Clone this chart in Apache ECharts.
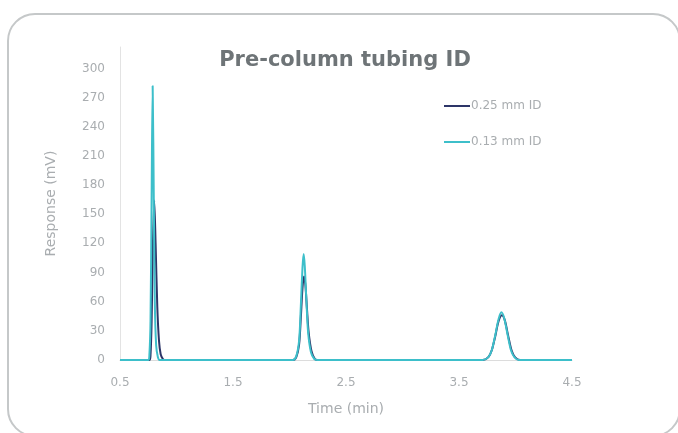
<!DOCTYPE html>
<html>
<head>
<meta charset="utf-8">
<script src="https://cdn.jsdelivr.net/npm/echarts@6/dist/echarts.min.js"></script>
<style>
  html, body { margin: 0; padding: 0; background: #fff; overflow: hidden; }
  #frame {
    position: absolute; left: 7px; top: 13px; width: 670px; height: 420px;
    border: 2px solid #c5c8c9; border-radius: 28px;
  }
  #chart { position: absolute; left: 0; top: 0; width: 678px; height: 433px; }
</style>
</head>
<body>
<div id="frame"></div>
<div id="chart"></div>
<script>
// values
var seriesNames = ['0.25 mm ID', '0.13 mm ID'];
var timeWide = [0.5, 0.76, 0.77, 0.78, 0.79, 0.803, 0.815, 0.83, 0.845, 0.86, 0.88, 0.90,
  2.03, 2.06, 2.085, 2.10, 2.115, 2.128, 2.14, 2.155, 2.17, 2.195, 2.225, 2.26,
  3.71, 3.76, 3.79, 3.82, 3.85, 3.88, 3.905, 3.935, 3.965, 3.995, 4.04, 4.5];
var respWide = [0, 0, 5, 40, 110, 164, 120, 55, 20, 6, 1, 0,
  0, 3, 16, 43, 74, 86, 78, 52, 28, 9, 1, 0,
  0, 3, 10, 24, 40, 46, 41, 25, 10, 3, 0, 0];
var timeNarrow = [0.5, 0.75, 0.76, 0.77, 0.78, 0.789, 0.798, 0.808, 0.82, 0.835, 0.85,
  2.03, 2.06, 2.085, 2.10, 2.115, 2.125, 2.135, 2.15, 2.165, 2.19, 2.22, 2.25,
  3.71, 3.76, 3.79, 3.82, 3.85, 3.875, 3.90, 3.93, 3.96, 3.99, 4.03, 4.5];
var respNarrow = [0, 0, 5, 40, 170, 282, 180, 60, 15, 3, 0,
  0, 4, 20, 55, 95, 109, 97, 60, 28, 8, 1, 0,
  0, 3, 10, 25, 42, 49, 43, 26, 10, 3, 0, 0];
var xTicks = [0.5, 1.5, 2.5, 3.5, 4.5];
var colors = ['#2d3568', '#3dbfca'];

function pairs(xs, ys) {
  return xs.map(function (x, i) { return [x, ys[i]]; });
}

var chart = echarts.init(document.getElementById('chart'));
var labelColor = '#a9adb0';
var font = 'DejaVu Sans';

chart.setOption({
  animation: false,
  title: {
    text: 'Pre-column tubing ID',
    left: 340, top: 45, textAlign: 'center',
    textStyle: { fontFamily: font, fontWeight: 'bold', fontSize: 21, color: '#6e7477' }
  },
  legend: {
    orient: 'vertical', left: 439, top: 95, itemGap: 24,
    icon: 'rect', itemWidth: 26, itemHeight: 2,
    textStyle: { fontFamily: font, fontSize: 12, color: labelColor, padding: [0, 0, 0, -4] },
    data: seriesNames
  },
  grid: { left: 120, right: 106, top: 47, bottom: 73 },
  xAxis: {
    type: 'value', min: 0.5, max: 4.5, interval: 1,
    name: 'Time (min)', nameLocation: 'middle', nameGap: 42,
    nameTextStyle: { fontFamily: font, fontSize: 14, color: labelColor },
    axisLine: { lineStyle: { color: '#dcdcdc' } },
    axisTick: { show: false },
    splitLine: { show: false },
    axisLabel: {
      fontFamily: font, fontSize: 12, color: labelColor, margin: 17,
      formatter: function (v) { return xTicks.indexOf(v) >= 0 ? v.toFixed(1) : ''; }
    }
  },
  yAxis: {
    type: 'value', min: 0, max: 322, interval: 30,
    name: 'Response (mV)', nameLocation: 'middle', nameGap: 62,
    nameTextStyle: { fontFamily: font, fontSize: 14, color: labelColor },
    axisLine: { show: true, lineStyle: { color: '#e3e3e3' } },
    axisTick: { show: false },
    splitLine: { show: false },
    axisLabel: {
      fontFamily: font, fontSize: 12, color: labelColor, margin: 15, showMaxLabel: false,
      formatter: function (v) { return v <= 300 ? String(v) : ''; }
    }
  },
  series: [
    {
      name: seriesNames[0], type: 'line', data: pairs(timeWide, respWide),
      smooth: 0.3, showSymbol: false,
      lineStyle: { width: 2, color: colors[0] }, itemStyle: { color: colors[0] }
    },
    {
      name: seriesNames[1], type: 'line', data: pairs(timeNarrow, respNarrow),
      smooth: 0.3, showSymbol: false,
      lineStyle: { width: 2, color: colors[1] }, itemStyle: { color: colors[1] }
    }
  ]
});
</script>
</body>
</html>
